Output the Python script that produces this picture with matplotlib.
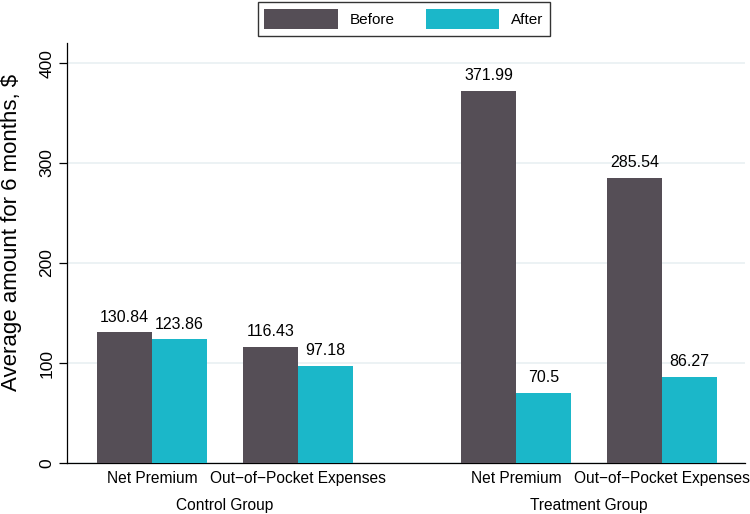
import matplotlib.pyplot as plt
from matplotlib.transforms import blended_transform_factory

plt.rcParams['font.family'] = ['Liberation Sans', 'DejaVu Sans']

groups = ["Control Group", "Treatment Group"]
categories = ["Net Premium", "Out\u2212of\u2212Pocket Expenses"]
series = ["Before", "After"]
before = [130.84, 116.43, 371.99, 285.54]
after = [123.86, 97.18, 70.5, 86.27]

col_before = "#554e56"
col_after = "#1bb7c9"

fig = plt.figure(figsize=(7.5, 5.14), dpi=100)
ax = fig.add_axes([0.0893, 0.0992, 0.9040, 0.8170])

# pair centres: within group step and between group step
step_cat = 2.655
step_grp = 6.618
centres = []
for g in range(len(groups)):
    for c in range(len(categories)):
        centres.append(g * step_grp + c * step_cat)

w = 1.0
xb = [x - w / 2 for x in centres]
xa = [x + w / 2 for x in centres]
bars_b = ax.bar(xb, before, width=w, color=col_before, label=series[0], zorder=3)
bars_a = ax.bar(xa, after, width=w, color=col_after, label=series[1], zorder=3)

for bars, vals in ((bars_b, before), (bars_a, after)):
    for b, v in zip(bars, vals):
        ax.annotate(f"{v:g}", (b.get_x() + b.get_width() / 2, v),
                    xytext=(0, 5.5), textcoords="offset points",
                    ha="center", va="bottom", fontsize=11.5)

ax.set_xlim(-1.545, 10.78)
ax.set_ylim(0, 420)
ax.set_yticks([0, 100, 200, 300, 400])
ax.set_yticklabels(["0", "100", "200", "300", "400"], rotation=90, va="center", fontsize=12.5)
ax.yaxis.grid(True, color="#e9f0f2", linewidth=1.2, zorder=0)
ax.set_ylabel("Average amount for 6 months, $", fontsize=16)
ax.yaxis.set_label_coords(-0.066, 0.55)

ax.set_xticks(centres)
ax.set_xticklabels(categories * len(groups), fontsize=11.2)
ax.tick_params(axis="x", length=0, pad=6)
ax.tick_params(axis="y", length=6, width=0.9, pad=3)

for s in ("top", "right"):
    ax.spines[s].set_visible(False)
for s in ("left", "bottom"):
    ax.spines[s].set_linewidth(0.9)

trans = blended_transform_factory(ax.transData, ax.transAxes)
for g, name in enumerate(groups):
    gx = g * step_grp + step_cat / 2
    ax.text(gx, -0.1, name, transform=trans, ha="center", va="center", fontsize=11.2)

leg = ax.legend(loc="lower center", bbox_to_anchor=(0.497, 1.016), ncol=2,
                frameon=True, fancybox=False, edgecolor="black", fontsize=11,
                handlelength=4.8, handleheight=1.65, columnspacing=2.0,
                handletextpad=0.8, borderpad=0.45, borderaxespad=0)
leg.get_frame().set_linewidth(1.0)

fig.savefig("out.png", dpi=100)
